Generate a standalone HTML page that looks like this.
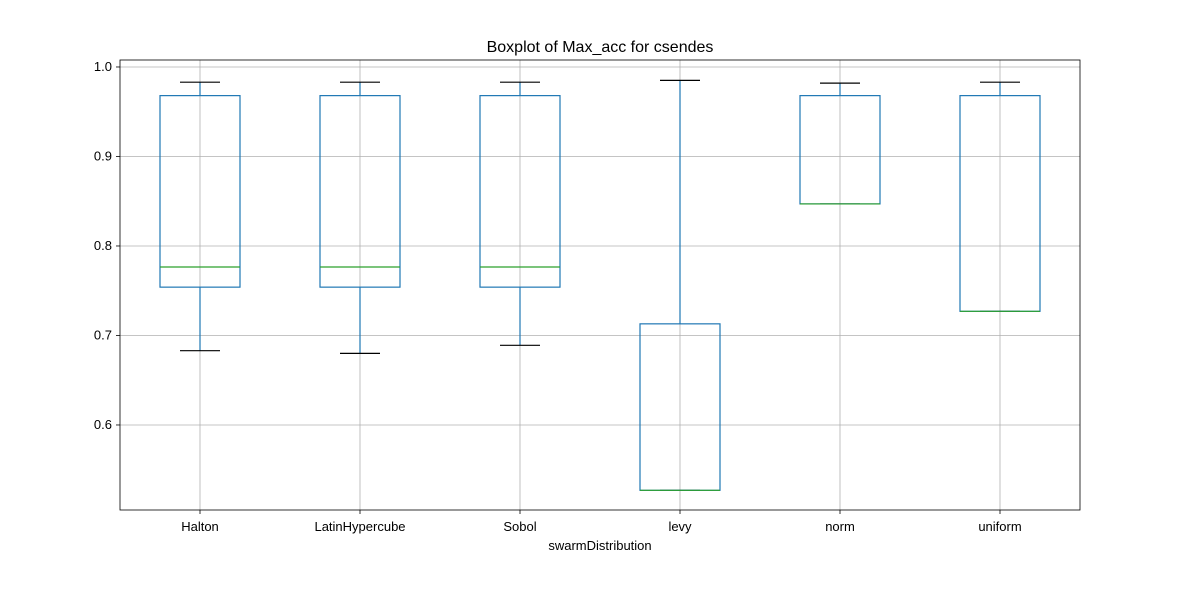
<!DOCTYPE html>
<html><head><meta charset="utf-8"><style>
body{margin:0;background:#fff;}
svg text{font-family:"Liberation Sans","DejaVu Sans",sans-serif;}
</style></head><body>
<svg width="1200" height="600" xmlns="http://www.w3.org/2000/svg">
<g id="plot"></g>
</svg>
<script>
const categories=["Halton","LatinHypercube","Sobol","levy","norm","uniform"];
const whiskerLow=[0.683,0.680,0.689,0.527,0.847,0.727];
const q1=[0.754,0.754,0.754,0.527,0.847,0.727];
const medians=[0.7765,0.7765,0.7765,0.527,0.847,0.727];
const q3=[0.968,0.968,0.968,0.713,0.968,0.968];
const whiskerHigh=[0.983,0.983,0.983,0.985,0.982,0.983];
const yTicks=[0.6,0.7,0.8,0.9,1.0];
const yTickLabels=["0.6","0.7","0.8","0.9","1.0"];

const L=120,R=1080,T=60,B=510;
const yMin=0.505,yMax=1.0078;
const y=v=>B-(v-yMin)/(yMax-yMin)*(B-T);
const x=i=>L+(i+0.5)*(R-L)/categories.length;
const NS="http://www.w3.org/2000/svg";
const g=document.getElementById('plot');
function mk(tag,attrs,parent){const e=document.createElementNS(NS,tag);for(const k in attrs)e.setAttribute(k,attrs[k]);(parent||g).appendChild(e);return e;}

// grid
yTicks.forEach((t,i)=>{
  const gl=mk('line',{x1:L,x2:R,y1:y(t),y2:y(t),stroke:'#b0b0b0','stroke-width':0.8});
  
  
  const tk=mk('line',{x1:L-4,x2:L,y1:y(t),y2:y(t),stroke:'#000','stroke-width':0.8});
  
  
  const tx=mk('text',{x:L-8,y:y(t)+4,'text-anchor':'end','font-size':13,fill:'#000'});
  tx.textContent=yTickLabels[i];
  
  
});
categories.forEach((c,i)=>{
  const gl=mk('line',{x1:x(i),x2:x(i),y1:T,y2:B,stroke:'#b0b0b0','stroke-width':0.8});
  
  
});
// boxes
const hw=40,cw=20;
categories.forEach((c,i)=>{
  const grp=mk('g',{});
  
  
  const cx=x(i),blue='#1f77b4';
  mk('line',{x1:cx,x2:cx,y1:y(q3[i]),y2:y(whiskerHigh[i]),stroke:blue,'stroke-width':1.2},grp);
  mk('line',{x1:cx,x2:cx,y1:y(q1[i]),y2:y(whiskerLow[i]),stroke:blue,'stroke-width':1.2},grp);
  mk('line',{x1:cx-cw,x2:cx+cw,y1:y(whiskerHigh[i]),y2:y(whiskerHigh[i]),stroke:'#000','stroke-width':1.2},grp);
  mk('line',{x1:cx-cw,x2:cx+cw,y1:y(whiskerLow[i]),y2:y(whiskerLow[i]),stroke:'#000','stroke-width':1.2},grp);
  mk('rect',{x:cx-hw,y:y(q3[i]),width:2*hw,height:Math.max(0,y(q1[i])-y(q3[i])),fill:'none',stroke:blue,'stroke-width':1.2},grp);
  mk('line',{x1:cx-hw,x2:cx+hw,y1:y(medians[i]),y2:y(medians[i]),stroke:'#2ca02c','stroke-width':1.2},grp);
  const tk=mk('line',{x1:cx,x2:cx,y1:B,y2:B+4,stroke:'#000','stroke-width':0.8});
  
  
  const tx=mk('text',{x:cx,y:B+21,'text-anchor':'middle','font-size':13,fill:'#000'});
  tx.textContent=c;
  
  
});
const fr=mk('rect',{x:L,y:T,width:R-L,height:B-T,fill:'none',stroke:'#000','stroke-width':0.8});


const ti=mk('text',{x:(L+R)/2,y:T-8,'text-anchor':'middle','font-size':16,fill:'#000'});
ti.textContent='Boxplot of Max_acc for csendes';


const xl=mk('text',{x:(L+R)/2,y:B+40,'text-anchor':'middle','font-size':13,fill:'#000'});
xl.textContent='swarmDistribution';


</script>
</body></html>
